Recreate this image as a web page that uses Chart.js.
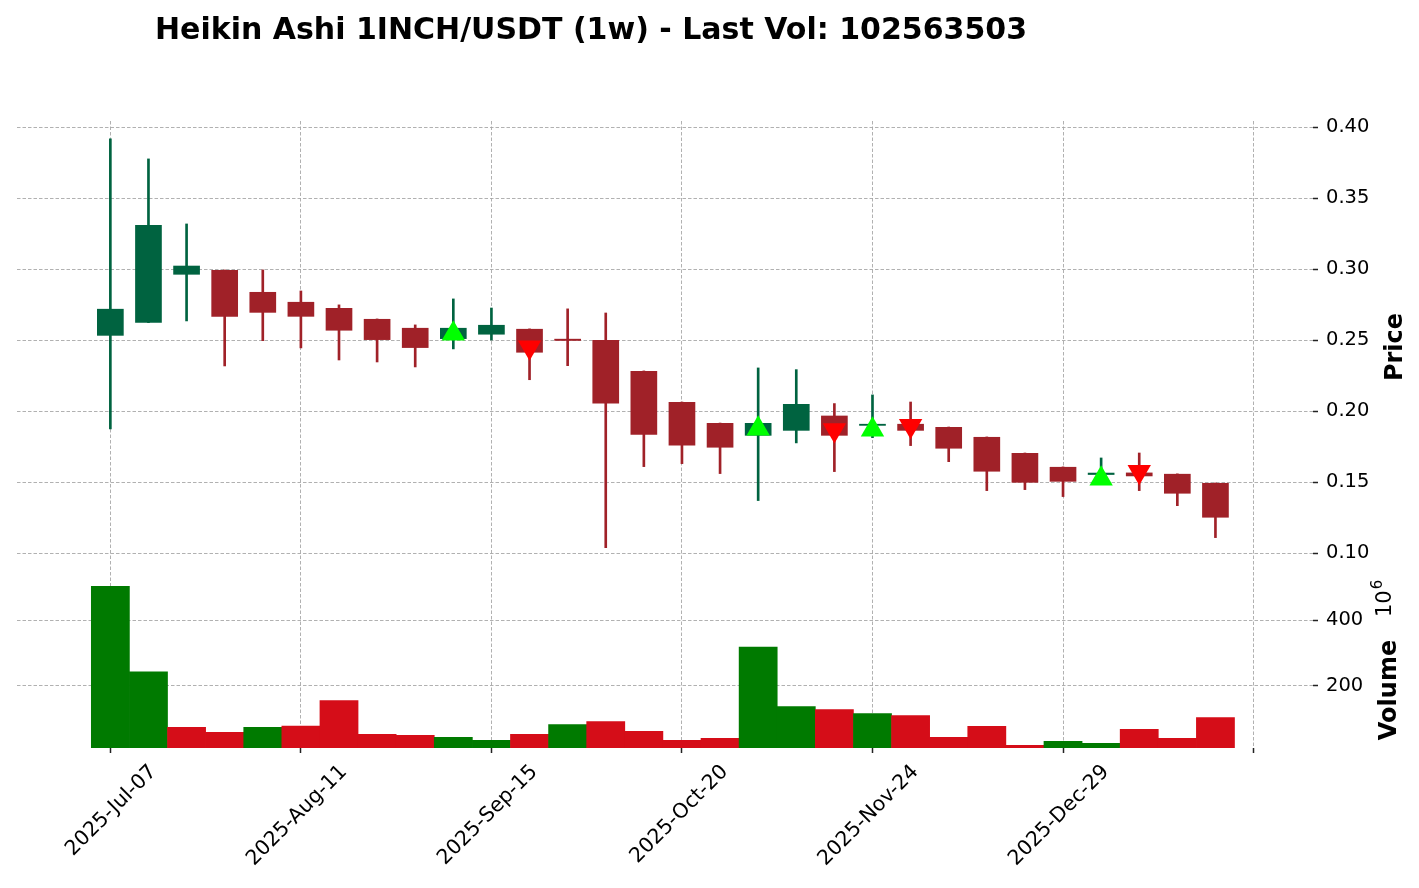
<!DOCTYPE html>
<html>
<head>
<meta charset="utf-8">
<script src="https://cdn.jsdelivr.net/npm/chart.js@4.4.0/dist/chart.umd.min.js"></script>
<style>
html,body{margin:0;padding:0;background:#fff;}
#wrap{width:1419px;height:888px;position:relative;}
canvas{display:block;}
</style>
</head>
<body>
<div id="wrap"><canvas id="c" width="1419" height="888"></canvas></div>
<script>
// ---- data (weekly Heikin Ashi candles) ----
const dates = ['2025-07-07','2025-07-14','2025-07-21','2025-07-28','2025-08-04','2025-08-11','2025-08-18','2025-08-25',
  '2025-09-01','2025-09-08','2025-09-15','2025-09-22','2025-09-29','2025-10-06','2025-10-13','2025-10-20',
  '2025-10-27','2025-11-03','2025-11-10','2025-11-17','2025-11-24','2025-12-01','2025-12-08','2025-12-15',
  '2025-12-22','2025-12-29','2026-01-05','2026-01-12','2026-01-19','2026-01-26'];
const haOpen  = [0.2532,0.2624,0.2962,0.2995,0.2840,0.2770,0.2727,0.2650,0.2587,0.2509,0.2540,0.2580,0.2510,0.2502,0.2284,
  0.2065,0.1917,0.1828,0.1863,0.1969,0.1898,0.1911,0.1889,0.1819,0.1706,0.1608,0.1552,0.1568,0.1559,0.1495];
const haClose = [0.2721,0.3312,0.3025,0.2666,0.2694,0.2666,0.2568,0.2502,0.2446,0.2587,0.2608,0.2413,0.2496,0.2054,0.1835,
  0.1758,0.1744,0.1917,0.2051,0.1828,0.1911,0.1863,0.1737,0.1575,0.1497,0.1504,0.1567,0.1542,0.1420,0.1251];
const haHigh  = [0.3918,0.3777,0.3319,0.2995,0.2995,0.2847,0.2749,0.2650,0.2608,0.2791,0.2727,0.2580,0.2721,0.2692,0.2284,
  0.2065,0.1917,0.2305,0.2293,0.2054,0.2115,0.2065,0.1889,0.1819,0.1706,0.1608,0.1671,0.1706,0.1559,0.1495];
const haLow   = [0.1876,0.2624,0.2636,0.2319,0.2497,0.2446,0.2361,0.2347,0.2312,0.2439,0.2502,0.2222,0.2321,0.1039,0.1610,
  0.1631,0.1561,0.1371,0.1777,0.1575,0.1814,0.1758,0.1645,0.1441,0.1448,0.1399,0.1483,0.1441,0.1335,0.1110];
const volumes = [503000000,242000000,72700000,57600000,72700000,76800000,154500000,51500000,48500000,42400000,
  33300000,51500000,81800000,90900000,60600000,33300000,39400000,318000000,136400000,127300000,
  115200000,109100000,42400000,75800000,18200000,30300000,24200000,66700000,39400000,102563503];
const volumeRising = [1,1,0,0,1,0,0,0,0,1,1,0,1,0,0,0,0,1,1,0,1,0,0,0,0,1,1,0,0,0];
const buyIndex  = [9,17,20,26];
const buyPrice  = [0.2545,0.1876,0.1869,0.1524];
const sellIndex = [11,19,21,27];
const sellPrice = [0.2450,0.1868,0.1898,0.1574];
const priceTicks  = [0.10,0.15,0.20,0.25,0.30,0.35,0.40];
const volumeTicks = [200000000,400000000];
const dateTickIndex = [0,5,10,15,20,25,30];

// ---- styling ----
const UP = '#006340', DOWN = '#a02128', VUP = '#007a00', VDOWN = '#d50d18';
const FONT = '"DejaVu Sans", "Liberation Sans", sans-serif';
const MONTHS = ['Jan','Feb','Mar','Apr','May','Jun','Jul','Aug','Sep','Oct','Nov','Dec'];
function fmtDate(i){
  if (i < 0 || i >= dates.length) return '';
  const [y,m,d] = dates[i].split('-');
  return y + '-' + MONTHS[parseInt(m,10)-1] + '-' + d;
}
const candleColors = haOpen.map((o,i) => haClose[i] >= o ? UP : DOWN);
const volColors = volumeRising.map(r => r ? VUP : VDOWN);
const titleText = 'Heikin Ashi 1INCH/USDT (1w) - Last Vol: ' + volumes[volumes.length-1];

Chart.defaults.font.family = FONT;
Chart.defaults.color = '#000';

const gridOpts = {color:'#a8a8a8', lineWidth:0.9, drawTicks:true, tickLength:5, tickColor:'#222', tickWidth:1.5, tickBorderDash:[], offset:false};
const gridDash = [3.5, 2];

const textPlugin = {
  id:'texts',
  afterDraw(chart){
    const ctx = chart.ctx;
    ctx.save();
    ctx.fillStyle = '#000';
    ctx.font = 'bold 30px ' + FONT;
    ctx.textAlign = 'center';
    ctx.textBaseline = 'alphabetic';
    ctx.fillText(titleText, 591, 39);
    function rot(text, x, y, font){
      ctx.save();
      ctx.translate(x, y);
      ctx.rotate(-Math.PI/2);
      ctx.font = font;
      ctx.textAlign = 'center';
      ctx.textBaseline = 'alphabetic';
      ctx.fillText(text, 0, 0);
      ctx.restore();
    }
    rot('Price', 1401.5, 347, 'bold 24px ' + FONT);
    rot('Volume', 1395.5, 690, 'bold 24px ' + FONT);
    // offset text 10^6
    ctx.save();
    ctx.translate(1391, 617);
    ctx.rotate(-Math.PI/2);
    ctx.textAlign = 'left';
    ctx.textBaseline = 'alphabetic';
    ctx.font = '21px ' + FONT;
    ctx.fillText('10', 0, 0);
    const w = ctx.measureText('10').width;
    ctx.font = '15px ' + FONT;
    ctx.fillText('6', w + 1, -9);
    ctx.restore();
    ctx.restore();
  }
};

new Chart(document.getElementById('c'), {
  type:'bar',
  data:{
    datasets:[
      {type:'scatter', data: buyIndex.map((ix,k)=>({x:ix, y:buyPrice[k]})), yAxisID:'y',
        pointStyle:'triangle', pointRadius:13.5, pointHoverRadius:13.5, pointBackgroundColor:'#00ff00', pointBorderWidth:0, order:0},
      {type:'scatter', data: sellIndex.map((ix,k)=>({x:ix, y:sellPrice[k]})), yAxisID:'y',
        pointStyle:'triangle', pointRotation:180, pointRadius:13.5, pointHoverRadius:13.5, pointBackgroundColor:'#ff0000', pointBorderWidth:0, order:0},
      {label:'body', data: dates.map((d,i)=>({x:i, y:[haOpen[i], haClose[i]]})), yAxisID:'y',
        backgroundColor: candleColors, barPercentage:0.7, categoryPercentage:1, grouped:false, order:1},
      {label:'wick', data: dates.map((d,i)=>({x:i, y:[haLow[i], haHigh[i]]})), yAxisID:'y',
        backgroundColor: candleColors, barThickness:2, grouped:false, order:2},
      {label:'volume', data: dates.map((d,i)=>({x:i, y:volumes[i]})), yAxisID:'yv',
        backgroundColor: volColors, barPercentage:1, categoryPercentage:1, grouped:false, order:3}
    ]
  },
  options:{
    responsive:false,
    animation:false,
    devicePixelRatio:1,
    layout:{padding:{left:17, top:121, right:0, bottom:0}},
    plugins:{legend:{display:false}, tooltip:{enabled:false}, title:{display:false}},
    scales:{
      x:{
        type:'linear', position:'bottom', min:-2.45, max:31.56, offset:false,
        afterBuildTicks: s => { s.ticks = dateTickIndex.map(v => ({value:v})); },
        afterFit: s => { s.height = 140; },
        ticks:{callback: v => fmtDate(v), autoSkip:false, minRotation:45, maxRotation:45, labelOffset:43, padding:7,
          font:{size:20.5}, color:'#000'},
        grid: gridOpts,
        border:{display:false, dash:gridDash}
      },
      y:{
        type:'linear', position:'right', stack:'panels', stackWeight:448, min:0.0889, max:0.4044,
        afterBuildTicks: s => { s.ticks = priceTicks.map(v => ({value:v})); },
        afterFit: s => { s.width = 106; },
        ticks:{callback: v => v.toFixed(2), padding:8, font:{size:19.5}, color:'#000'},
        grid: gridOpts,
        border:{display:false, dash:gridDash}
      },
      yv:{
        type:'linear', position:'right', stack:'panels', stackWeight:179, min:10000000, max:556000000,
        afterBuildTicks: s => { s.ticks = volumeTicks.map(v => ({value:v})); },
        afterFit: s => { s.width = 106; },
        ticks:{callback: v => (v/1e6).toFixed(0), padding:8, font:{size:19.5}, color:'#000'},
        grid: gridOpts,
        border:{display:false, dash:gridDash}
      }
    }
  },
  plugins:[textPlugin]
});
</script>
</body>
</html>
